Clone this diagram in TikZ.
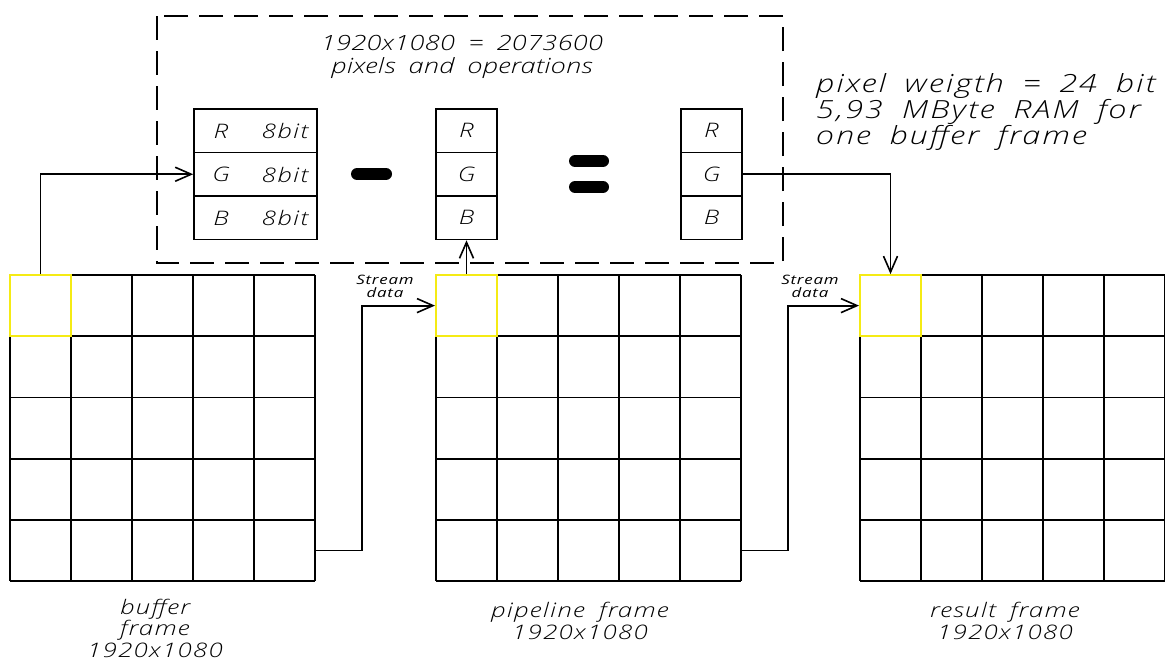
\documentclass[tikz,border=0pt]{standalone}
\usepackage{fontspec}
\usetikzlibrary{arrows.meta}
\newfontfamily\cad{Open Sans Light Italic}[FakeStretch=1.3,LetterSpace=6,WordSpace=1.8]
\newfontfamily\cadt{Open Sans Light Italic}[FakeStretch=1.3,LetterSpace=1,WordSpace=1.8]
\newfontfamily\cadn{Open Sans Light Italic}[FakeStretch=1.3,LetterSpace=8,WordSpace=1.8]
\newfontfamily\cadb{Open Sans Italic}[FakeStretch=1.3,LetterSpace=6]
\definecolor{cadyellow}{RGB}{245,235,20}
\begin{document}
\begin{tikzpicture}[x=1pt,y=-1pt,
  ln/.style={line width=1.8pt},
  arr/.style={ln,-{Straight Barb[length=16pt,width=14pt,line width=1.6pt]}},
  dbox/.style={line width=1.6pt,dash pattern=on 24pt off 11pt},
  ycell/.style={draw=cadyellow,line width=1.8pt,minimum size=61.2pt,inner sep=0pt},
  rgb/.style={draw,line width=1.6pt,minimum height=43.5pt,inner sep=0pt,font=\cad\fontsize{20}{22}\selectfont},
  lbl/.style={font=\cad\fontsize{20}{22}\selectfont,inner sep=0pt},
  bar/.style={line width=12pt,line cap=round},
  small/.style={font=\cadb\fontsize{13}{13}\selectfont,align=center,inner sep=0pt},
  ttl/.style={font=\cadt\fontsize{21}{23}\selectfont,align=center,inner sep=0pt},
  note/.style={font=\cadn\fontsize{25}{26}\selectfont,align=left,inner sep=0pt},
  framecap/.style={font=\cad\fontsize{20}{21.5}\selectfont,align=center,inner sep=0pt}]
\useasboundingbox[fill=white] (0,0) rectangle (1165,662);

% grids
\foreach \gx in {10,436,860}{
  \foreach \i in {0,...,5}{
    \draw[ln] (\gx+61*\i,275) -- ++(0,306);
    \draw[ln] (\gx,275+61.2*\i) -- ++(305,0);
  }
}
% yellow pixel cells
\node[ycell] (bc) at (40.5,305.6) {};
\node[ycell] (pc) at (466.5,305.6) {};
\node[ycell] (rc) at (890.5,305.6) {};

% dashed box
\draw[dbox] (157,16) rectangle (783,263);

% rgb boxes
\node[rgb,minimum width=123pt] (lR) at (255.5,130.75) {};
\node[rgb,minimum width=123pt] (lG) at (255.5,174.25) {};
\node[rgb,minimum width=123pt] (lB) at (255.5,217.75) {};
\node[lbl] (lRt) at (221,131) {R};
\node[lbl] (lGt) at (221,174.5) {G};
\node[lbl] (lBt) at (221,218) {B};
\node[lbl] (lRb) at (285,131) {8bit};
\node[lbl] (lGb) at (285,174.5) {8bit};
\node[lbl] (lBb) at (285,218) {8bit};

\node[rgb,minimum width=61pt] (mR) at (466.5,130.75) {R};
\node[rgb,minimum width=61pt] (mG) at (466.5,174.25) {G};
\node[rgb,minimum width=61pt] (mB) at (466.5,217.75) {B};

\node[rgb,minimum width=61pt] (rR) at (711.5,130.75) {R};
\node[rgb,minimum width=61pt] (rG) at (711.5,174.25) {G};
\node[rgb,minimum width=61pt] (rB) at (711.5,217.75) {B};

% minus and equals
\draw[bar] (357,174) -- (386,174);
\draw[bar] (575,161) -- (603,161);
\draw[bar] (575,187) -- (603,187);

% connectors
\draw[arr] (bc.north) |- (lG.west);
\draw[arr] (pc.north) -- (mB.south);
\draw[arr] (rG.east) -| (rc.north);
\coordinate (bout) at (315,550.5);
\coordinate (pout) at (741,550.5);
\draw[arr] (bout) -- ++(47,0) |- (pc.west);
\draw[arr] (pout) -- ++(47,0) |- (rc.west);

% texts
\node[ttl] (title) at (462,57) {1920x1080 = 2073600\\pixels and operations};
\node[note,anchor=west] (info) at (816,112) {pixel weigth = 24 bit\\5,93 MByte RAM for\\one buffer frame};
\node[small] (s1) at (385,286) {Stream\\data};
\node[small] (s2) at (810,286) {Stream\\data};
\node[framecap] (c1) at (155,628) {buffer\\frame\\1920x1080};
\node[framecap] (c2) at (580,621) {pipeline frame\\1920x1080};
\node[framecap] (c3) at (1005,621) {result frame\\1920x1080};
\end{tikzpicture}
\end{document}
